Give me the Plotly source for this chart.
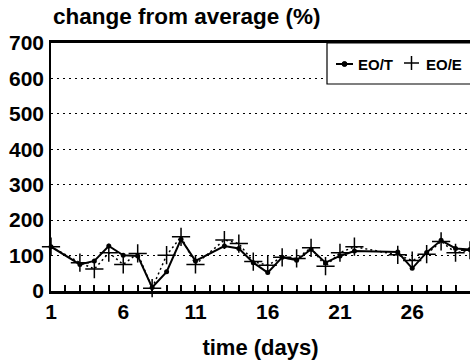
import plotly.graph_objects as go

# daily values, days with no measurement left as None
days = list(range(1, 31))
eo_t = [125, None, 75, 85, 127, 101, 99, 10, 54, 146, 85, None, 127, 120, 80,
        52, 95, 87, 118, 80, 99, 113, None, None, 110, 64, 109, 143, 120, 117]
eo_e = [125, None, 80, 62, 108, 75, 106, 8, 101, 153, 75, None, 144, 134, 83,
        73, 95, 92, 122, 70, 108, 125, None, None, 102, 86, 104, 140, 108, 115]

x_ticks = [1, 6, 11, 16, 21, 26]
y_ticks = [0, 100, 200, 300, 400, 500, 600, 700]
series_names = ["EO/T", "EO/E"]

FONT = "Liberation Sans, Arial, Helvetica, sans-serif"
W, H = 470, 362
L, R, T, B = 51, 0, 43, 71
PW, PH = W - L - R, H - T - B


def px(xp):
    """horizontal pixel -> paper fraction"""
    return (xp - L) / PW


def py(yp):
    """vertical pixel (from top) -> paper fraction"""
    return (H - B - yp) / PH


fig = go.Figure()
fig.add_trace(go.Scatter(
    x=days, y=eo_t, name=series_names[0], mode="lines+markers", connectgaps=True,
    line=dict(color="black", width=2),
    marker=dict(symbol="circle", size=5, color="black"),
    cliponaxis=False,
))
fig.add_trace(go.Scatter(
    x=days, y=eo_e, name=series_names[1], mode="lines+markers", connectgaps=True,
    line=dict(color="black", width=1.5, dash="2px,3px"),
    marker=dict(symbol="cross-thin", size=13, color="black",
                line=dict(color="black", width=1.5)),
    cliponaxis=False,
))

# boxed key in the upper right corner
key_shapes = [
    dict(type="rect", xref="paper", yref="paper", x0=px(327), x1=px(471),
         y0=py(84), y1=py(43), line=dict(color="black", width=1.2),
         fillcolor="white", layer="above"),
    # solid line with dot
    dict(type="line", xref="paper", yref="paper", x0=px(336), x1=px(353),
         y0=py(64), y1=py(64), line=dict(color="black", width=2), layer="above"),
    dict(type="circle", xref="paper", yref="paper", x0=px(342), x1=px(347),
         y0=py(66.5), y1=py(61.5), line=dict(color="black", width=1),
         fillcolor="black", layer="above"),
    # plus sign
    dict(type="line", xref="paper", yref="paper", x0=px(404), x1=px(419),
         y0=py(63), y1=py(63), line=dict(color="black", width=1.5), layer="above"),
    dict(type="line", xref="paper", yref="paper", x0=px(411.5), x1=px(411.5),
         y0=py(56), y1=py(70), line=dict(color="black", width=1.5), layer="above"),
]
key_text = [
    dict(text=series_names[0], x=px(356), y=py(64), xanchor="left", yanchor="middle"),
    dict(text=series_names[1], x=px(424), y=py(64), xanchor="left", yanchor="middle"),
]
annotations = [dict(a, xref="paper", yref="paper", showarrow=False,
                    font=dict(size=15, weight="bold")) for a in key_text]

fig.update_layout(
    width=W, height=H,
    margin=dict(l=L, r=R, t=T, b=B),
    paper_bgcolor="white", plot_bgcolor="white",
    font=dict(family=FONT, color="black", size=21, weight="bold"),
    title=dict(text="change from average (%)", xref="container", x=53 / W,
               xanchor="left", yref="container", y=1 - 8 / H, yanchor="top",
               font=dict(size=22.5, weight="bold")),
    showlegend=False,
    shapes=key_shapes,
    annotations=annotations,
)

fig.update_xaxes(
    range=[1, 30], tickvals=x_ticks, ticktext=[str(v) for v in x_ticks],
    ticks="inside", ticklen=6, tickwidth=1.5, tickcolor="black",
    minor=dict(dtick=1, tick0=1, ticks="inside", ticklen=6, tickwidth=1.5,
               tickcolor="black", showgrid=False),
    showline=True, linecolor="black", linewidth=2.5, mirror=True,
    showgrid=False, zeroline=False, ticklabelstandoff=0,
    title=dict(text="time (days)", font=dict(size=22, weight="bold"), standoff=18),
)
fig.update_yaxes(
    range=[0, 700], tickvals=y_ticks, ticktext=[str(v) for v in y_ticks],
    ticks="", showline=True, linecolor="black", linewidth=1.5,
    showgrid=True, gridcolor="black", gridwidth=1.3, griddash="2px,4px",
    zeroline=False, ticklabelstandoff=1,
)

fig.write_html("out.html")
